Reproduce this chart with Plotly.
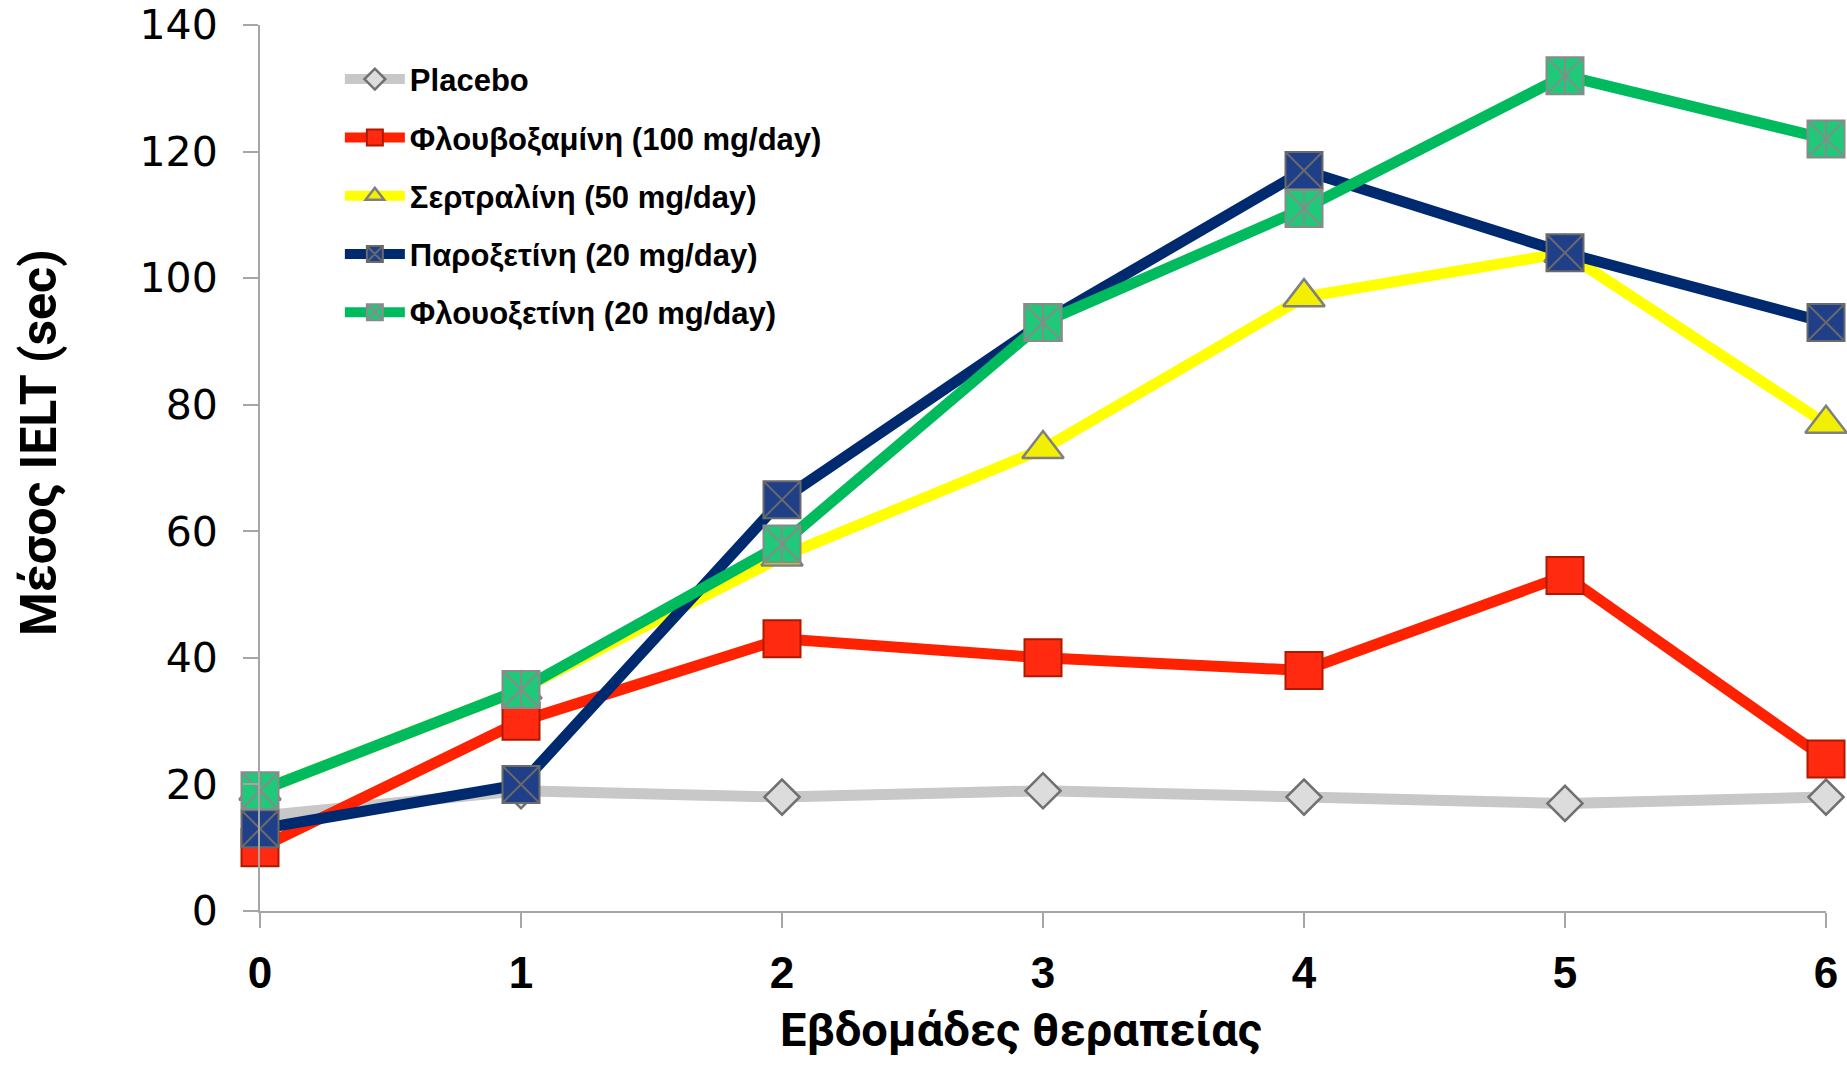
import plotly.graph_objects as go

weeks = [0, 1, 2, 3, 4, 5, 6]
placebo = [15, 19, 18, 19, 18, 17, 18]
fluvoxamine = [10, 30, 43, 40, 38, 53, 24]
sertraline = [19, 35, 56, 73, 97, 104, 77]
paroxetine = [13, 20, 65, 93, 117, 104, 93]
fluoxetine = [19, 35, 58, 93, 111, 132, 122]

names = ["Placebo", "Φλουβοξαμίνη (100 mg/day)", "Σερτραλίνη (50 mg/day)",
         "Παροξετίνη (20 mg/day)", "Φλουοξετίνη (20 mg/day)"]
x_title = "Εβδομάδες θεραπείας"
y_title = "Μέσος IELT (sec)"
y_tickvals = [0, 20, 40, 60, 80, 100, 120, 140]
x_tickvals = [0, 1, 2, 3, 4, 5, 6]

LW = 11
fig = go.Figure()

fig.add_trace(go.Scatter(
    x=weeks, y=placebo, name=names[0], legendgroup="a", mode="lines+markers",
    line=dict(color="#c8c8c8", width=LW),
    marker=dict(symbol="diamond", size=27, color="#dcdcdc",
                line=dict(color="#707070", width=2.5)),
    cliponaxis=False))

fig.add_trace(go.Scatter(
    x=weeks, y=fluvoxamine, name=names[1], legendgroup="b", mode="lines+markers",
    line=dict(color="#ff2200", width=LW),
    marker=dict(symbol="square", size=37, color="#ff2a10",
                line=dict(color="#b01800", width=2)),
    cliponaxis=False))

fig.add_trace(go.Scatter(
    x=weeks, y=sertraline, name=names[2], legendgroup="c", mode="lines+markers",
    line=dict(color="#ffff00", width=LW),
    marker=dict(symbol="triangle-up", size=36, color="#f2ef00",
                line=dict(color="#808080", width=2.5)),
    cliponaxis=False))

fig.add_trace(go.Scatter(
    x=weeks, y=paroxetine, name=names[3], legendgroup="d", mode="lines+markers",
    line=dict(color="#002a70", width=LW),
    marker=dict(symbol="square-x", size=37, color="#1f3f88",
                line=dict(color="#6a6a6a", width=2)),
    cliponaxis=False))

fig.add_trace(go.Scatter(
    x=weeks, y=fluoxetine, name=names[4], legendgroup="e", mode="lines+markers",
    line=dict(color="#00bb5e", width=LW),
    marker=dict(symbol="square-x", size=37, color="#20c87a",
                line=dict(color="#8a8a8a", width=2)),
    cliponaxis=False))

fig.add_trace(go.Scatter(
    x=weeks, y=fluoxetine, legendgroup="e", showlegend=False, mode="markers",
    marker=dict(symbol="line-ns", size=26, color="#8a8a8a",
                line=dict(color="#8a8a8a", width=2)),
    cliponaxis=False, hoverinfo="skip"))

fig.update_layout(
    width=1847, height=1082,
    margin=dict(l=260, r=21, t=25, b=171),
    paper_bgcolor="white", plot_bgcolor="white",
    showlegend=True,
    legend=dict(x=0.051, y=0.969, xanchor="left", yanchor="top",
                traceorder="grouped", tracegroupgap=15, itemwidth=60,
                font=dict(family="Liberation Sans, Arial, sans-serif", size=31,
                          color="black", weight="bold"),
                bgcolor="rgba(0,0,0,0)"),
    xaxis=dict(range=[0, 6], tickvals=x_tickvals, showgrid=False, zeroline=False,
               automargin=False,
               showline=True, linecolor="#a6a6a6", linewidth=2,
               ticks="outside", ticklen=15, tickwidth=2, tickcolor="#a6a6a6",
               tickfont=dict(family="Liberation Sans, Arial, sans-serif", size=44,
                             color="black", weight="bold"),
               ticklabelstandoff=7),
    yaxis=dict(range=[0, 140], tickvals=y_tickvals, showgrid=False, zeroline=False,
               automargin=False,
               showline=True, linecolor="#a6a6a6", linewidth=2,
               ticks="outside", ticklen=15, tickwidth=2, tickcolor="#a6a6a6",
               tickfont=dict(family="DejaVu Sans, sans-serif", size=41, color="black"),
               ticklabelstandoff=17),
    annotations=[
        dict(text=x_title, xref="paper", yref="paper",
             x=(1021 - 260) / 1566, y=-(1029 - 911) / 886,
             xanchor="center", yanchor="middle", showarrow=False,
             font=dict(family="Liberation Sans Narrow, Roboto, sans-serif", size=47,
                       color="black", weight="bold")),
        dict(text=y_title, xref="paper", yref="paper", textangle=-90,
             x=-(260 - 39) / 1566, y=(911 - 443) / 886,
             xanchor="center", yanchor="middle", showarrow=False,
             font=dict(family="Liberation Sans Narrow, Roboto, sans-serif", size=50,
                       color="black", weight="bold")),
    ],
)

fig.write_html("out.html")
